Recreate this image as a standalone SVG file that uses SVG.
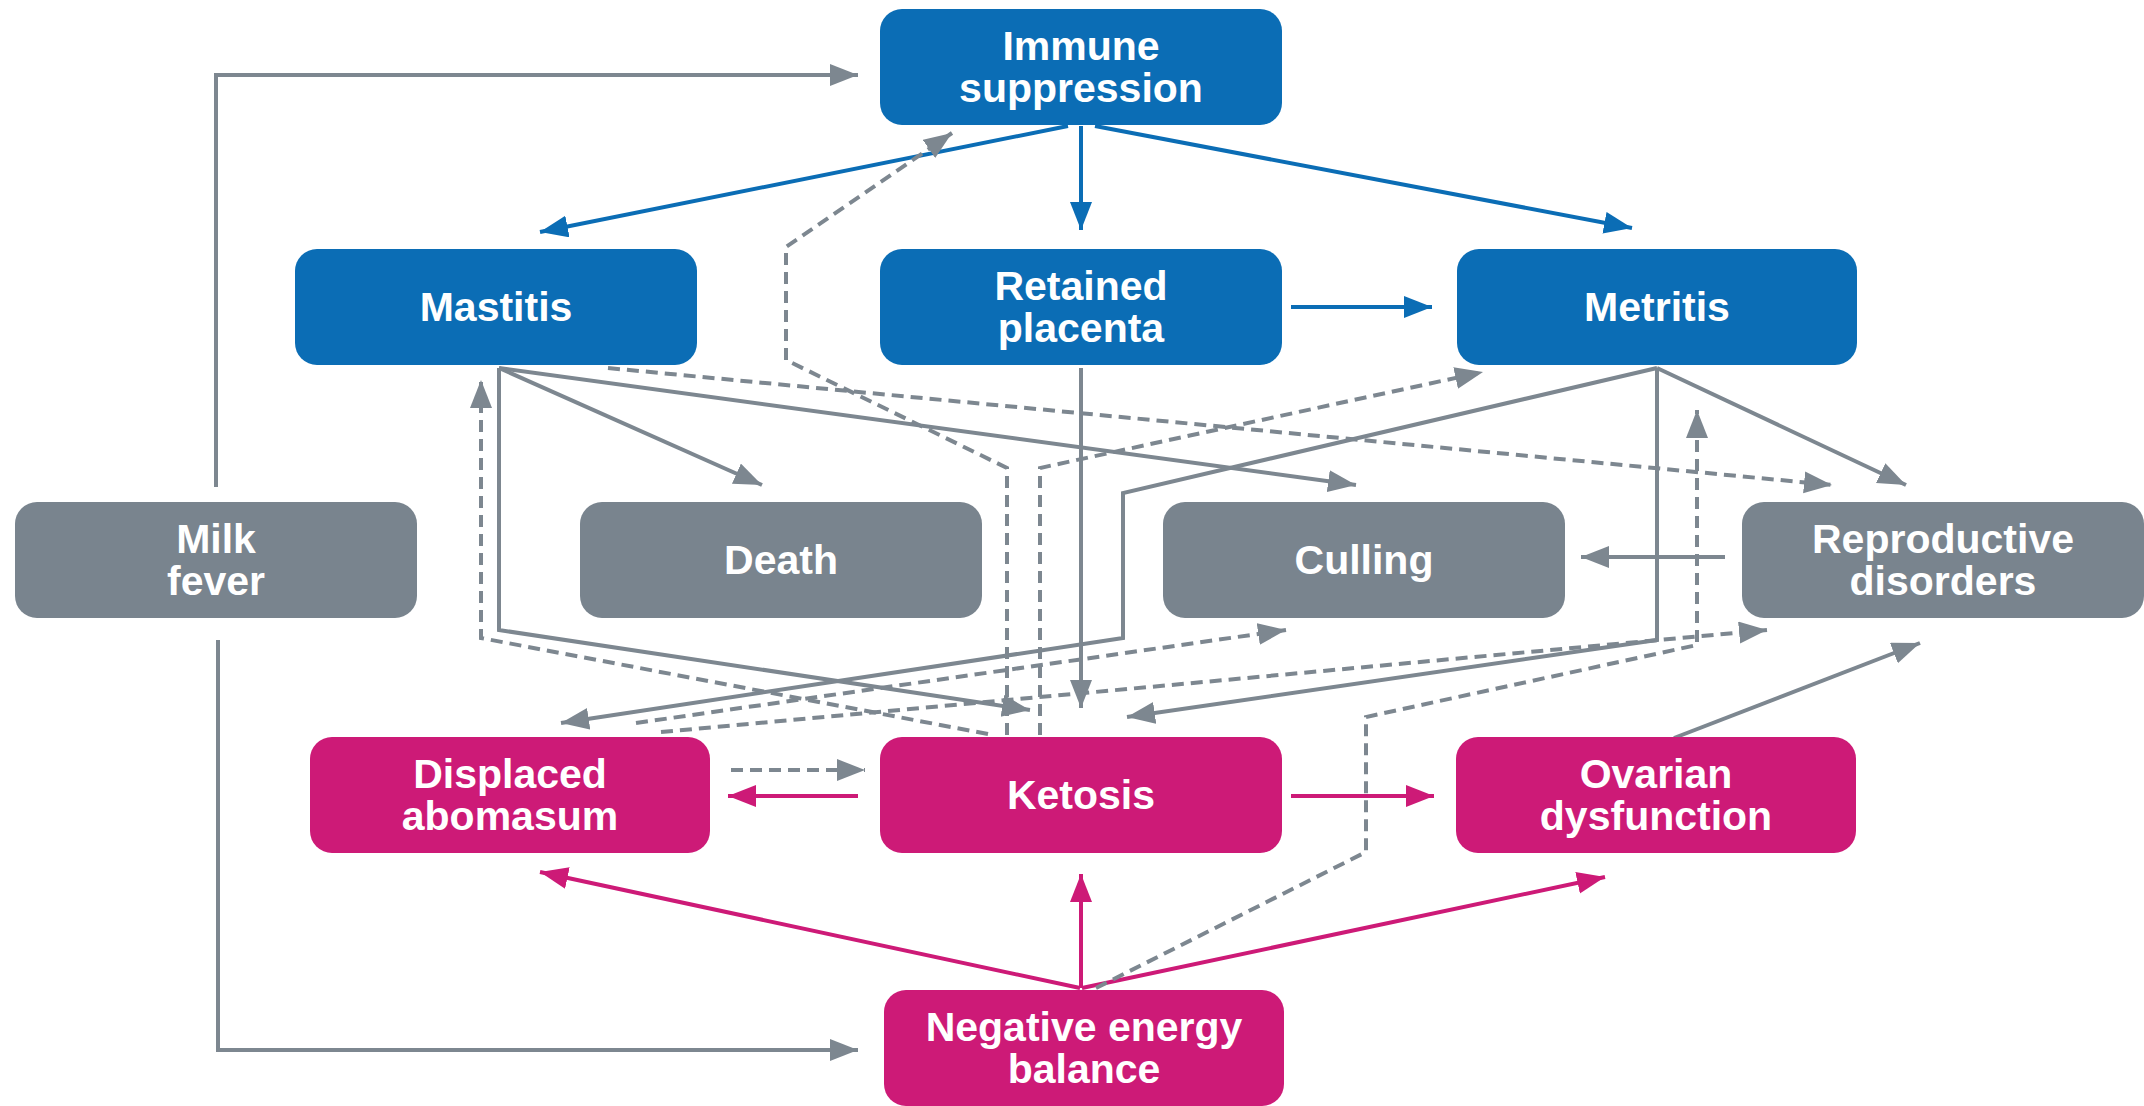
<svg xmlns="http://www.w3.org/2000/svg" width="2144" height="1106" viewBox="0 0 2144 1106">
<defs>
<style>
.blue{fill:#0b6db5}
.gray{fill:#79848e}
.mag{fill:#cd1a77}
.lbl{fill:#ffffff;font-family:"Liberation Sans",Arial,sans-serif;font-weight:bold;font-size:41px;text-anchor:middle}
.cb{fill:none;stroke:#0b6db5;stroke-width:4;marker-end:url(#ab)}
.cg{fill:none;stroke:#7d8790;stroke-width:4;marker-end:url(#ag)}
.cm{fill:none;stroke:#cd1a77;stroke-width:4;marker-end:url(#am)}
.cd{fill:none;stroke:#7d8790;stroke-width:4;stroke-dasharray:12 7;marker-end:url(#ag)}
</style>
<marker id="ab" markerUnits="userSpaceOnUse" markerWidth="30" markerHeight="24" refX="28" refY="11" orient="auto"><path d="M0,0 L28,11 L0,22 z" fill="#0b6db5"/></marker>
<marker id="ag" markerUnits="userSpaceOnUse" markerWidth="30" markerHeight="24" refX="28" refY="11" orient="auto"><path d="M0,0 L28,11 L0,22 z" fill="#7d8790"/></marker>
<marker id="am" markerUnits="userSpaceOnUse" markerWidth="30" markerHeight="24" refX="28" refY="11" orient="auto"><path d="M0,0 L28,11 L0,22 z" fill="#cd1a77"/></marker>
</defs>
<rect width="2144" height="1106" fill="#ffffff"/>
<g id="connectors">
<path class="cb" d="M1068,126 L540,232"/>
<path class="cb" d="M1081,126 V230"/>
<path class="cb" d="M1095,126 L1632,228"/>
<path class="cb" d="M1291,307 H1432"/>
<path class="cg" d="M216,487 V75 H858"/>
<path class="cg" d="M218,640 V1050 H858"/>
<path class="cg" d="M499,368 L762,485"/>
<path class="cg" d="M499,368 L1356,485"/>
<path class="cg" d="M499,368 V630 L1030,710"/>
<path class="cg" d="M1657,368 L1123,493 V638 L561,723"/>
<path class="cg" d="M1657,368 V640 L1127,717"/>
<path class="cg" d="M1657,368 L1906,485"/>
<path class="cg" d="M1725,557 H1581"/>
<path class="cg" d="M1674,738 L1920,643"/>
<path class="cg" d="M1081,368 V708"/>
<path class="cm" d="M858,796 H728"/>
<path class="cm" d="M1291,796 H1434"/>
<path class="cm" d="M1080,988 L540,872"/>
<path class="cm" d="M1081,988 V874"/>
<path class="cm" d="M1082,988 L1605,877"/>
<path class="cd" d="M731,770 H865"/>
<path class="cd" d="M1096,988 L1366,852 V717 L1697,645 V410"/>
<path class="cd" d="M1007,735 V468 L786,360 V247 L952,133"/>
<path class="cd" d="M1040,735 V468 L1483,372"/>
<path class="cd" d="M608,368 L1832,485"/>
<path class="cd" d="M988,734 L481,638 V380"/>
<path class="cd" d="M636,723 L1286,630"/>
<path class="cd" d="M661,732 L1767,630"/>
</g>
<g id="immune"><rect class="blue" x="880" y="9" width="402" height="116" rx="22"/><text class="lbl" x="1081" y="60">Immune</text><text class="lbl" x="1081" y="102">suppression</text></g>
<g id="mastitis"><rect class="blue" x="295" y="249" width="402" height="116" rx="22"/><text class="lbl" x="496" y="321">Mastitis</text></g>
<g id="retained"><rect class="blue" x="880" y="249" width="402" height="116" rx="22"/><text class="lbl" x="1081" y="300">Retained</text><text class="lbl" x="1081" y="342">placenta</text></g>
<g id="metritis"><rect class="blue" x="1457" y="249" width="400" height="116" rx="22"/><text class="lbl" x="1657" y="321">Metritis</text></g>
<g id="milkfever"><rect class="gray" x="15" y="502" width="402" height="116" rx="22"/><text class="lbl" x="216" y="553">Milk</text><text class="lbl" x="216" y="595">fever</text></g>
<g id="death"><rect class="gray" x="580" y="502" width="402" height="116" rx="22"/><text class="lbl" x="781" y="574">Death</text></g>
<g id="culling"><rect class="gray" x="1163" y="502" width="402" height="116" rx="22"/><text class="lbl" x="1364" y="574">Culling</text></g>
<g id="reproductive"><rect class="gray" x="1742" y="502" width="402" height="116" rx="22"/><text class="lbl" x="1943" y="553">Reproductive</text><text class="lbl" x="1943" y="595">disorders</text></g>
<g id="displaced"><rect class="mag" x="310" y="737" width="400" height="116" rx="22"/><text class="lbl" x="510" y="788">Displaced</text><text class="lbl" x="510" y="830">abomasum</text></g>
<g id="ketosis"><rect class="mag" x="880" y="737" width="402" height="116" rx="22"/><text class="lbl" x="1081" y="809">Ketosis</text></g>
<g id="ovarian"><rect class="mag" x="1456" y="737" width="400" height="116" rx="22"/><text class="lbl" x="1656" y="788">Ovarian</text><text class="lbl" x="1656" y="830">dysfunction</text></g>
<g id="neb"><rect class="mag" x="884" y="990" width="400" height="116" rx="22"/><text class="lbl" x="1084" y="1041">Negative energy</text><text class="lbl" x="1084" y="1083">balance</text></g>
</svg>
